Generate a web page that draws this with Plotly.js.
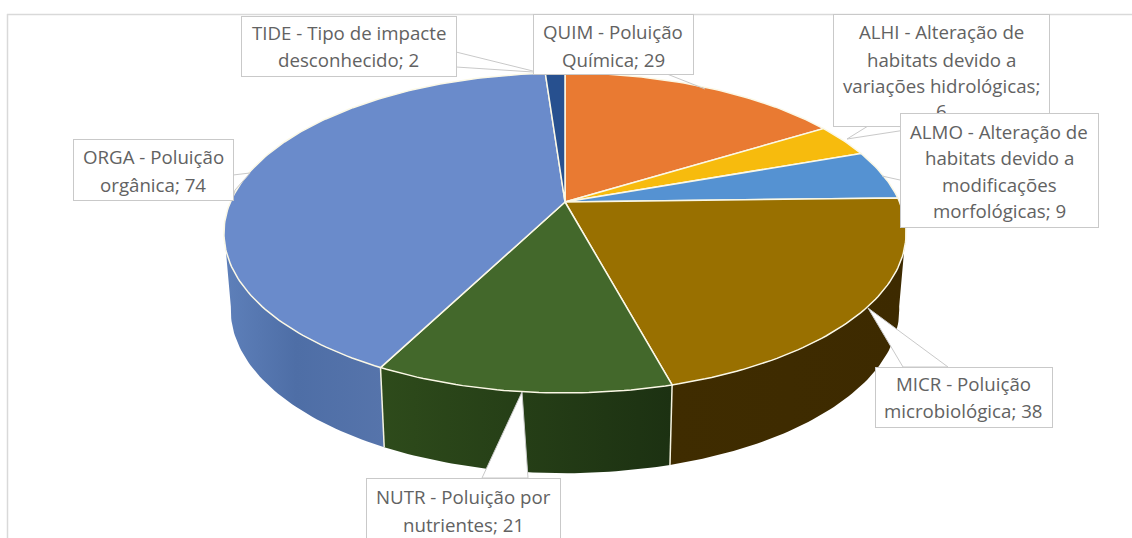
<!DOCTYPE html>
<html><head><meta charset="utf-8">
<script src="https://cdn.plot.ly/plotly-3.0.1.min.js"></script>
<style>html,body{margin:0;padding:0;background:#fff;overflow:hidden}#c{width:1132px;height:538px}</style>
</head><body><div id="c"></div>
<script>
const codes  = ["QUIM","ALHI","ALMO","MICR","NUTR","ORGA","TIDE"];
const values = [29,6,9,38,21,74,2];
const topColors = ["#e97a32","#f7bb0d","#5592d2","#997000","#43682b","#6a8bcb","#27508f"];
const wallScales = {
  MICR:[[0,"#3f2c00"],[1,"#3d2a00"]],
  NUTR:[[0,"#2e4b1b"],[1,"#1c3112"]],
  ORGA:[[0,"#5e80ba"],[0.45,"#4e6ea6"],[1,"#5674ab"]]
};
const labelLines = [
  ["ALHI - Alteração de","habitats devido a","variações hidrológicas;","6"],
  ["ALMO - Alteração de","habitats devido a","modificações","morfológicas; 9"],
  ["TIDE - Tipo de impacte","desconhecido; 2"],
  ["QUIM - Poluição","Química; 29"],
  ["ORGA - Poluição","orgânica; 74"],
  ["NUTR - Poluição por","nutrientes; 21"],
  ["MICR - Poluição","microbiológica; 38"]
];
// label boxes: left, top, right, bottom; line centres
const labelBoxes = [[833,14,1049,126],[900,113,1098,227],[241,16,456,76],[533,14,693,74],[73,139,233,200],[366,478,560,546],[875,367,1052,427]];
const lineY = [[31,59,85,110],[131,157,184,210],[32,59],[31,59],[156,184],[496,524],[383,410]];
const leaders = [
  "M868,126 L847,139 L925,127 Z",
  "M900,180 L882,176",
  "M456,52 L545,74 L533,72 L456,67 Z",
  "M667,74 L705,89",
  "M233,175 L250,173 L235,190 L233,198 Z",
  "M482,478 L522,392 L528,478 Z",
  "M903,367 L868,308 L948,367 Z"
];

// ---- projection of the tilted disc onto the page ----
const cx=565, apexY=202, A=334.6, B=154, k=0.1937;
const ellCY=233, wallCY=310, wallSX=0.98, wallSY=1.02;
function rim(deg){
  const t=deg*Math.PI/180, u=Math.sin(t), v=Math.cos(t), w=1+k*v;
  return [cx+A*u/w, apexY-B*v/w];
}
function low(deg){
  const p=rim(deg);
  return [cx+wallSX*(p[0]-cx), wallCY+wallSY*(p[1]-ellCY)];
}
function arc(fn,a,b){
  const out=[], n=Math.max(2,Math.ceil(Math.abs(b-a)));
  for(let i=0;i<=n;i++) out.push(fn(a+(b-a)*i/n));
  return out;
}
const total=values.reduce((s,v)=>s+v,0);
let acc=0;
const angles=values.map(v=>{const a=[acc/total*360,(acc+v)/total*360];acc+=v;return a;});

const traces=[];
// side walls (front half only, between the two silhouette angles)
const rightSil=100, leftSil=260;
const wallRange={MICR:[rightSil,angles[3][1]],NUTR:[angles[4][0],angles[4][1]],ORGA:[angles[5][0],leftSil]};
Object.keys(wallRange).forEach(c=>{
  const [a,b]=wallRange[c];
  const pts=arc(rim,a,b).concat(arc(low,b,a));
  pts.push(pts[0]);
  traces.push({type:"scatter",mode:"lines",x:pts.map(p=>p[0]),y:pts.map(p=>p[1]),
    fill:"toself",fillgradient:{type:"horizontal",colorscale:wallScales[c]},
    line:{width:0},hoverinfo:"skip",showlegend:false,name:c+" wall"});
});
// separators on the walls
[angles[3][1],angles[4][1]].forEach(a=>{
  const p=[rim(a),low(a)];
  traces.push({type:"scatter",mode:"lines",x:p.map(q=>q[0]),y:p.map(q=>q[1]),
    line:{color:"#f4f2e0",width:1.5},hoverinfo:"skip",showlegend:false});
});
// top slices
codes.forEach((c,i)=>{
  const pts=[[cx,apexY]].concat(arc(rim,angles[i][0],angles[i][1]));
  pts.push([cx,apexY]);
  traces.push({type:"scatter",mode:"lines",x:pts.map(p=>p[0]),y:pts.map(p=>p[1]),
    fill:"toself",fillcolor:topColors[i],line:{color:"#fbf8e6",width:1.5},
    hoverinfo:"skip",showlegend:false,name:c});
});

// ---- callouts ----
const shapes=[
  {type:"line",xref:"x",yref:"y",x0:7.5,x1:7.5,y0:14,y1:538,line:{color:"#d9d9d9",width:1.5},layer:"below"},
  {type:"line",xref:"x",yref:"y",x0:7,x1:1132,y0:14.5,y1:14.5,line:{color:"#d9d9d9",width:1.5},layer:"below"}
].concat(leaders.map(p=>({type:"path",xref:"x",yref:"y",path:p,fillcolor:"#fff",line:{color:"#c9c9c9",width:1},layer:"above"})));

const annotations=[];
const fontSpec={family:"'Open Sans','Noto Sans',sans-serif",size:18.7,color:"#626262"};
labelBoxes.forEach((b,i)=>{
  annotations.push({xref:"x",yref:"y",x:b[0],y:b[1],xanchor:"left",yanchor:"top",showarrow:false,
    text:" ",width:b[2]-b[0]-1,height:b[3]-b[1]-1,bgcolor:"#fff",bordercolor:"#c9c9c9",borderwidth:1,borderpad:0});
  labelLines[i].forEach((t,j)=>{
    annotations.push({xref:"x",yref:"y",x:(b[0]+b[2])/2,y:lineY[i][j],xanchor:"center",yanchor:"middle",
      showarrow:false,text:t,font:fontSpec,borderpad:0});
  });
});

Plotly.newPlot("c",traces,{
  width:1132,height:538,margin:{l:0,r:0,t:0,b:0},
  paper_bgcolor:"#fff",plot_bgcolor:"#fff",showlegend:false,
  xaxis:{range:[0,1132],visible:false,fixedrange:true},
  yaxis:{range:[538,0],visible:false,fixedrange:true},
  shapes:shapes,annotations:annotations
},{displayModeBar:false,staticPlot:true});
</script></body></html>
